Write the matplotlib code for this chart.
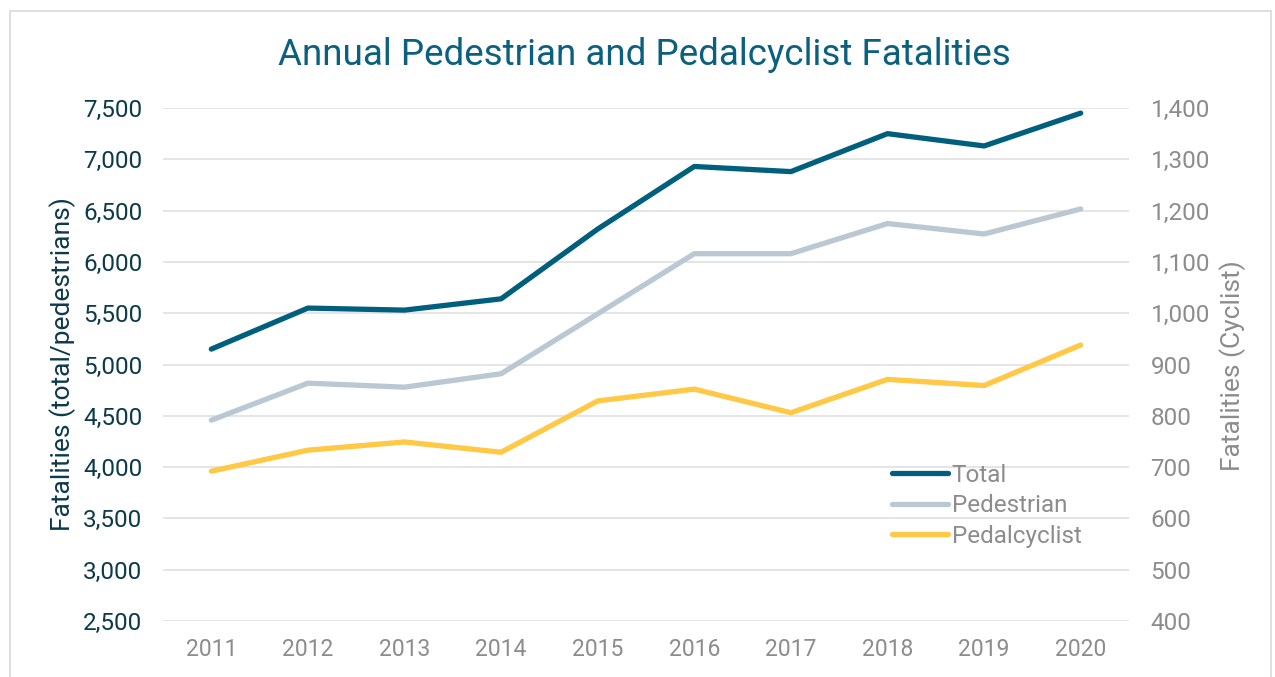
import matplotlib
matplotlib.use("Agg")
import matplotlib.pyplot as plt
from matplotlib.patches import Rectangle
from matplotlib.ticker import FuncFormatter, MultipleLocator

plt.rcParams['font.family'] = ['Roboto', 'DejaVu Sans']

years = [2011, 2012, 2013, 2014, 2015, 2016, 2017, 2018, 2019, 2020]
total = [5150, 5550, 5530, 5640, 6320, 6930, 6880, 7250, 7130, 7450]
pedestrian = [4457, 4818, 4779, 4910, 5494, 6080, 6080, 6374, 6272, 6516]
pedalcyclist = [692, 733, 749, 729, 829, 852, 806, 871, 859, 938]

c_total = '#005f7d'
c_ped = '#bac8d3'
c_cyc = '#ffc845'
c_title = '#0b607e'
c_left = '#0d3a4a'
c_right = '#8c8c8c'
c_grid = '#e3e3e3'

fig = plt.figure(figsize=(12.75, 6.77), dpi=100)
fig.patches.append(Rectangle((9.5/1275, -0.1), (1271-9.5)/1275, 1.1 - 11/677,
                             transform=fig.transFigure, fill=False,
                             edgecolor='#d9d9d9', linewidth=1.2))

ax = fig.add_axes([163/1275, (677-621)/677, 966/1275, 513/677])
ax2 = ax.twinx()

lw = 3.8
l1, = ax.plot(years, total, color=c_total, lw=lw, solid_capstyle='round', label='Total', zorder=3)
l2, = ax.plot(years, pedestrian, color=c_ped, lw=lw, solid_capstyle='round', label='Pedestrian', zorder=2)
l3, = ax2.plot(years, pedalcyclist, color=c_cyc, lw=lw, solid_capstyle='round', label='Pedalcyclist')

ax.set_xlim(2010.5, 2020.5)
ax.set_ylim(2500, 7500)
ax2.set_ylim(400, 1400)
ax.yaxis.set_major_locator(MultipleLocator(500))
ax2.yaxis.set_major_locator(MultipleLocator(100))
ax.set_xticks(years)
fmt = FuncFormatter(lambda v, p: f'{int(v):,}')
ax.yaxis.set_major_formatter(fmt)
ax2.yaxis.set_major_formatter(fmt)

ax.grid(axis='y', color=c_grid, lw=1.3)
ax.set_axisbelow(True)
for a in (ax, ax2):
    for s in a.spines.values():
        s.set_visible(False)
ax.tick_params(axis='y', length=0, pad=15, labelsize=17.5, labelcolor=c_left)
ax.tick_params(axis='x', length=0, pad=12, labelsize=16.5, labelcolor=c_right)
ax2.tick_params(axis='y', length=0, pad=15.5, labelsize=17.5, labelcolor=c_right)

fig.text(63/1275, 1 - 364/677, 'Fatalities (total/pedestrians)', rotation=90,
         ha='center', va='center', fontsize=19, color=c_left)
fig.text(1233/1275, 1 - 366/677, 'Fatalities (Cyclist)', rotation=90,
         ha='center', va='center', fontsize=19, color=c_right)

fig.text(644/1275, 1 - 55/677, 'Annual Pedestrian and Pedalcyclist Fatalities',
         ha='center', va='center', fontsize=26.5, color=c_title)

leg = ax2.legend(handles=[l1, l2, l3], loc='upper left',
                 bbox_to_anchor=(892/1275, 1 - 464/677), bbox_transform=fig.transFigure,
                 frameon=False, fontsize=17.5, handlelength=2.3, handletextpad=0.15,
                 labelspacing=0.3, borderaxespad=0, borderpad=0)
for t in leg.get_texts():
    t.set_color(c_right)

fig.savefig('out.png', dpi=100)
